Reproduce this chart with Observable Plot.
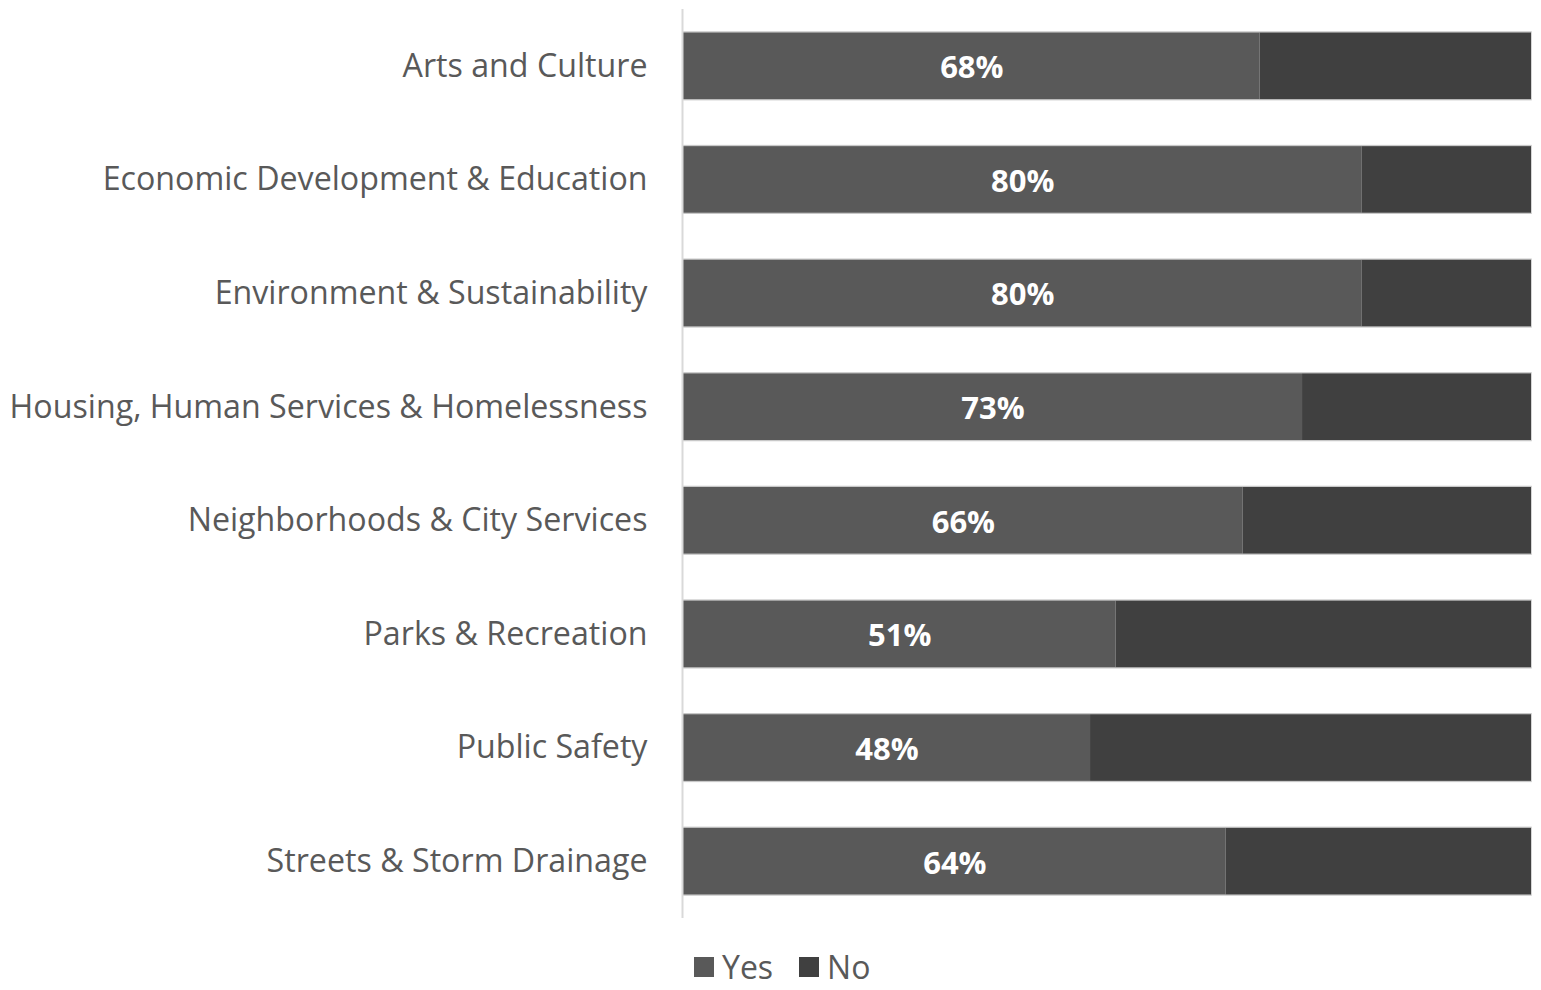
<!DOCTYPE html>
<html>
<head>
<meta charset="utf-8">
<script src="https://cdn.jsdelivr.net/npm/d3@7"></script>
<script src="https://cdn.jsdelivr.net/npm/@observablehq/plot@0.6"></script>
<style>
  body { margin: 0; background: #fff; font-family: "Open Sans", sans-serif; overflow: hidden; }
  #legend { display: flex; gap: 26px; margin-left: 694px; height: 32px; padding-top: 6px; align-items: center; color: #595959; font-size: 32px; line-height: 32px; }
  #legend span.item { display: flex; align-items: center; gap: 8px; }
  #legend span.sw { width: 20px; height: 20px; display: inline-block; }
</style>
</head>
<body>
<div id="chart"></div>
<div id="legend"></div>
<script>
const categories = [
  "Arts and Culture",
  "Economic Development & Education",
  "Environment & Sustainability",
  "Housing, Human Services & Homelessness",
  "Neighborhoods & City Services",
  "Parks & Recreation",
  "Public Safety",
  "Streets & Storm Drainage"
];
const yesValues = [68, 80, 80, 73, 66, 51, 48, 64];
const series = ["Yes", "No"];
const colors = ["#595959", "#404040"];

const rows = [];
categories.forEach((c, i) => {
  rows.push({category: c, series: "Yes", x1: 0, x2: yesValues[i]});
  rows.push({category: c, series: "No", x1: yesValues[i], x2: 100});
});
const totals = categories.map(c => ({category: c, x1: 0, x2: 100}));
const labels = categories.map((c, i) => ({category: c, x: yesValues[i] / 2, label: yesValues[i] + "%"}));

const chart = Plot.plot({
  width: 1541,
  height: 945,
  marginLeft: 683,
  marginRight: 10,
  marginTop: 9,
  marginBottom: 27,
  style: {fontFamily: "Open Sans, sans-serif", color: "#595959", background: "#fff"},
  x: {domain: [0, 100], axis: null},
  y: {domain: categories, padding: 0, round: false, label: null},
  color: {domain: series, range: colors},
  marks: [
    Plot.axisY({tickSize: 0, tickPadding: 36, fontSize: 32.2, fill: "#595959", label: null}),
    Plot.barX(totals, {y: "category", x1: "x1", x2: "x2", fill: "none", stroke: "#c8c8c8", strokeWidth: 1.5, insetTop: 23, insetBottom: 23}),
    Plot.barX(rows, {y: "category", x1: "x1", x2: "x2", fill: "series", insetTop: 23.5, insetBottom: 23.5}),
    Plot.ruleX([0], {stroke: "#d9d9d9", strokeWidth: 2, dx: -1}),
    Plot.text(labels, {y: "category", x: "x", text: "label", fill: "white", fontSize: 31, fontWeight: "bold", dy: 2})
  ]
});
document.getElementById("chart").appendChild(chart);

const legend = document.getElementById("legend");
series.forEach((s, i) => {
  const item = document.createElement("span");
  item.className = "item";
  const sw = document.createElement("span");
  sw.className = "sw";
  sw.style.background = colors[i];
  item.appendChild(sw);
  item.appendChild(document.createTextNode(s));
  legend.appendChild(item);
});
</script>
</body>
</html>
